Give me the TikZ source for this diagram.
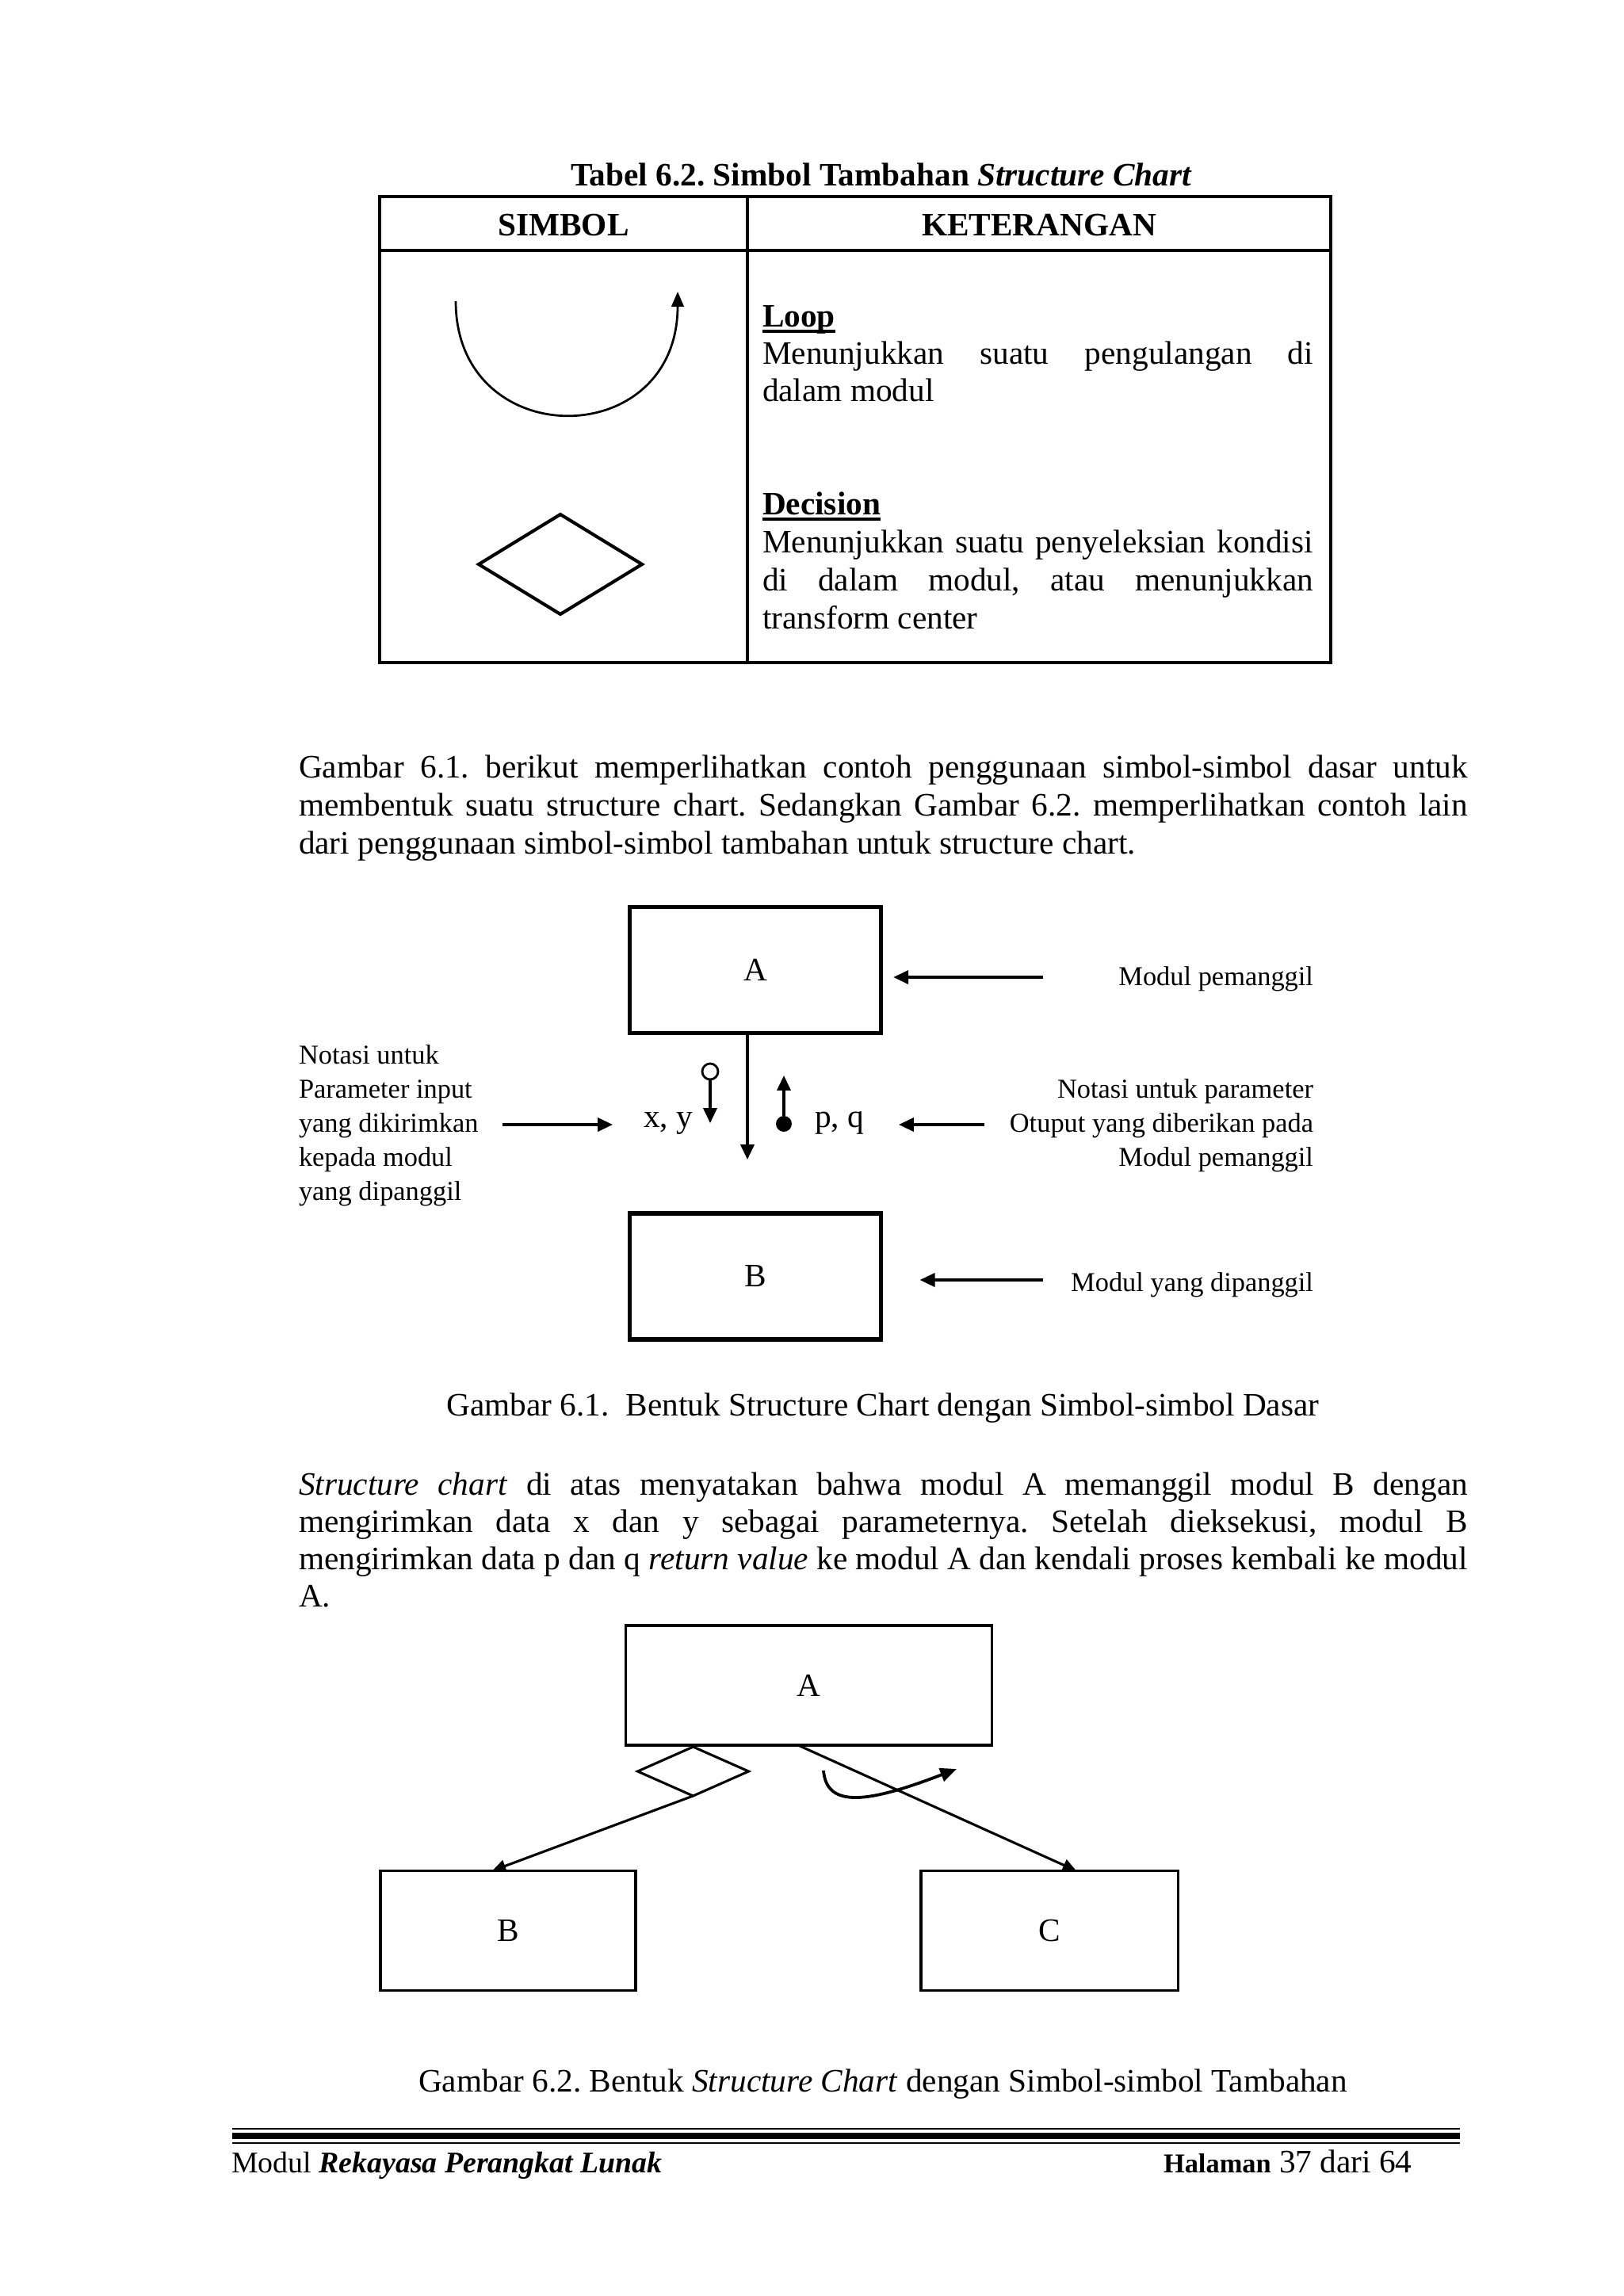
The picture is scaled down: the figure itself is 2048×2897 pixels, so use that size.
\documentclass[tikz,border=0pt]{standalone}
\usepackage{fontspec}
\setmainfont{Liberation Serif}
\usetikzlibrary{arrows.meta,shapes.geometric}
\newsavebox\ulbox
\newcommand\myul[1]{\sbox\ulbox{#1}\rlap{\rule[-2.2pt]{\wd\ulbox}{0.9pt}}\usebox\ulbox}
\frenchspacing
\begin{document}
\frenchspacing
\begin{tikzpicture}[x=0.29066pt, y=-0.29066pt,
  every node/.style={inner sep=0pt, outer sep=0pt},
  tx/.style={anchor=base west, font=\fontsize{12}{14}\selectfont},
  txc/.style={anchor=base, font=\fontsize{12}{14}\selectfont},
  lbl/.style={anchor=base west, font=\fontsize{10}{12}\selectfont},
  lblr/.style={anchor=base east, font=\fontsize{10}{12}\selectfont},
  bigbox/.style={draw, line width=1.5pt, font=\fontsize{12}{14}\selectfont, minimum width=92.1pt, minimum height=46.2pt},
  smallbox/.style={draw, line width=0.9pt, font=\fontsize{12}{14}\selectfont, minimum height=43.9pt},
  arr/.style={-{Triangle[length=5.5pt,width=5pt]}, line width=0.9pt},
  arrtwo/.style={-{Triangle[length=5pt,width=4.5pt]}, line width=0.9pt},
  tbl/.style={line width=0.9pt}]
\fill[white] (0,0) rectangle (2048,2897);
\path[use as bounding box] (0,0) rectangle (2048,2897);

% ---------- Table title ----------
\node[txc] (ttitle) at (1112,234) {\textbf{Tabel 6.2. Simbol Tambahan \textit{Structure Chart}}};

% ---------- Table ----------
\draw[tbl] (479,248) rectangle (1679,836);
\draw[tbl] (479,316) -- (1679,316);
\draw[tbl] (943,248) -- (943,836);
\node[txc] (hsim) at (711,297) {\textbf{SIMBOL}};
\node[txc] (hket) at (1311,297) {\textbf{KETERANGAN}};

% loop symbol
\draw[line width=0.8pt, -{Triangle[length=5.5pt,width=4.5pt]}] (575,380) .. controls (575,572) and (855,572) .. (855,368);
% decision symbol
\node[diamond, draw, line width=1.2pt, minimum width=59.9pt, minimum height=36.6pt] (dsym) at (707,712) {};

\node[tx] (loopt) at (962,412) {\myul{\textbf{Loop}}};
\node[tx] (loop1) at (962,459) {\makebox[202pt][s]{Menunjukkan suatu pengulangan di}};
\node[tx] (loop2) at (962,506) {dalam modul};
\node[tx] (dect) at (962,649) {\myul{\textbf{Decision}}};
\node[tx] (dec1) at (962,697) {\makebox[202pt][s]{Menunjukkan suatu penyeleksian kondisi}};
\node[tx] (dec2) at (962,745) {\makebox[202pt][s]{di dalam modul, atau menunjukkan}};
\node[tx] (dec3) at (962,793) {transform center};

% ---------- Paragraph 1 ----------
\node[tx] (p1a) at (377,981) {\makebox[428.7pt][s]{Gambar 6.1. berikut memperlihatkan contoh penggunaan simbol-simbol dasar untuk}};
\node[tx] (p1b) at (377,1029) {\makebox[428.7pt][s]{membentuk suatu structure chart. Sedangkan Gambar 6.2. memperlihatkan contoh lain}};
\node[tx] (p1c) at (377,1077) {dari penggunaan simbol-simbol tambahan untuk structure chart.};

% ---------- Figure 6.1 ----------
\node[bigbox] (A) at (953,1224) {A};
\node[bigbox] (B) at (953,1610.5) {B};

\coordinate (callend) at (943,1463);
\draw[arr] (A.south -| callend) -- (callend);

\node[circle, draw, line width=0.8pt, minimum size=5.8pt] (oc) at (896,1352) {};
\coordinate (octip) at (896,1417);
\draw[arr] (oc.south) -- (octip);
\node[circle, fill, minimum size=5.8pt] (fc) at (989,1418) {};
\coordinate (fctip) at (989,1357);
\draw[arr] (fc.north) -- (fctip);

\node[tx] (xy) at (812,1422) {x, y};
\node[tx] (pq) at (1028,1422) {p, q};

\node[lbl] (l1) at (377,1342) {Notasi untuk};
\node[lbl] (l2) at (377,1385) {Parameter input};
\node[lbl] (l3) at (377,1428) {yang dikirimkan};
\node[lbl] (l4) at (377,1471) {kepada modul};
\node[lbl] (l5) at (377,1514) {yang dipanggil};

\node[lblr] (r0) at (1657,1243) {Modul pemanggil};
\node[lblr] (r1) at (1657,1385) {Notasi untuk parameter};
\node[lblr] (r2) at (1657,1428) {Otuput yang diberikan pada};
\node[lblr] (r3) at (1657,1471) {Modul pemanggil};
\node[lblr] (r4) at (1657,1629) {Modul yang dipanggil};

\coordinate (inS) at (634,1419);
\coordinate (inT) at (773,1419);
\draw[arr] (inS) -- (inT);
\coordinate (outS) at (1242,1419);
\coordinate (outT) at (1134,1419);
\draw[arr] (outS) -- (outT);
\coordinate (pA) at (1316,1233);
\draw[arr, shorten >=4.6pt] (pA) -- (pA -| A.east);
\coordinate (pB) at (1316,1615);
\draw[arr, shorten >=14.3pt] (pB) -- (pB -| B.east);

\node[txc] (cap1) at (1114,1786) {Gambar 6.1.\ \ Bentuk Structure Chart dengan Simbol-simbol Dasar};

% ---------- Paragraph 2 ----------
\node[tx] (p2a) at (377,1886) {\makebox[428.7pt][s]{\textit{Structure chart} di atas menyatakan bahwa modul A memanggil modul B dengan}};
\node[tx] (p2b) at (377,1933) {\makebox[428.7pt][s]{mengirimkan data x dan y sebagai parameternya. Setelah dieksekusi, modul B}};
\node[tx] (p2c) at (377,1980) {\makebox[428.7pt][s]{mengirimkan data p dan q \textit{return value} ke modul A dan kendali proses kembali ke modul}};
\node[tx] (p2d) at (377,2027) {A.};

% ---------- Figure 6.2 ----------
\node[smallbox, minimum width=134.3pt] (A2) at (1020.5,2126.5) {A};
\node[smallbox, minimum width=93.6pt] (B2) at (641,2436) {B};
\node[smallbox, minimum width=94.2pt] (C2) at (1324,2436) {C};
\node[diamond, draw, line width=0.9pt, minimum width=40.7pt, minimum height=18pt] (D2) at (874.5,2235) {};

\coordinate (bt) at (621,2360);
\draw[arrtwo] (D2.south) -- (bt |- B2.north);
\coordinate (cs) at (1007,2204);
\coordinate (ct) at (1358,2360);
\draw[arrtwo] (cs |- A2.south) -- (ct |- C2.north);
\draw[line width=1.1pt, -{Triangle[length=6pt,width=5pt]}] (1039,2234) .. controls (1043,2282) and (1095,2275) .. (1207,2232);

\node[txc] (cap2) at (1114,2639) {Gambar 6.2. Bentuk \textit{Structure Chart} dengan Simbol-simbol Tambahan};

% ---------- Footer ----------
\draw[line width=0.8pt] (293,2686) -- (1842,2686);
\draw[line width=2.4pt] (293,2695) -- (1842,2695);
\draw[line width=0.8pt] (293,2704) -- (1842,2704);
\node[anchor=base west, font=\fontsize{11}{13}\selectfont] (fl) at (292,2741) {Modul \textbf{\textit{Rekayasa Perangkat Lunak}}};
\node[tx] (fr) at (1468,2741) {{\fontsize{10}{12}\selectfont\textbf{Halaman}} 37 dari 64};
\end{tikzpicture}
\end{document}
